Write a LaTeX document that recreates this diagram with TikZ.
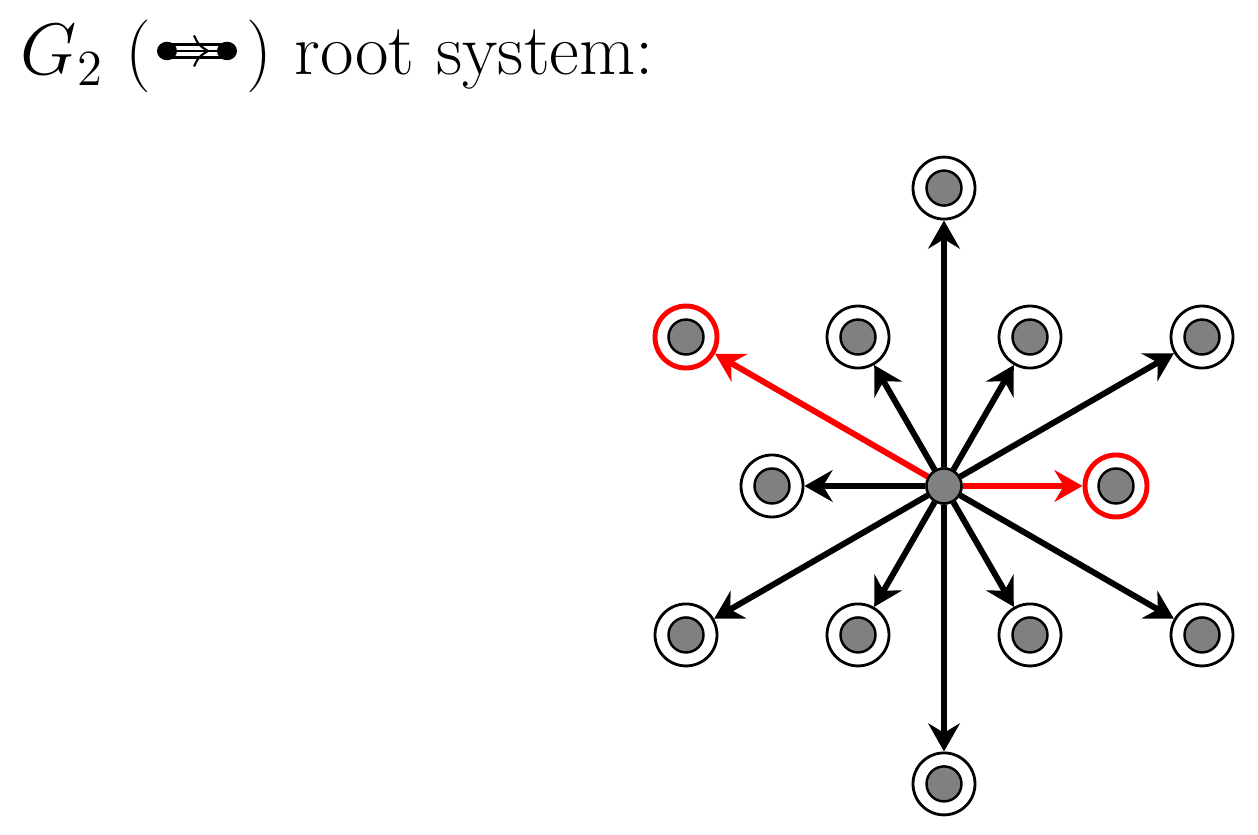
\documentclass[tikz,border=0pt]{standalone}
\usepackage{xcolor,tikz}
\usetikzlibrary{positioning,calc,arrows.meta,shapes.geometric}
\definecolor{rootRedLine}{HTML}{FF0000}
\definecolor{rootGreyFill}{HTML}{808080}

\tikzset{
  rootring/.style={circle, draw=black, line width=0.8pt, fill=white,
    minimum size=0.62cm, inner sep=0pt},
  redring/.style={rootring, draw=rootRedLine, line width=1.4pt},
  rootdot/.style={circle, draw=black, line width=0.7pt, fill=rootGreyFill,
    minimum size=0.35cm, inner sep=0pt},
  rootarrow/.style={line width=1.7pt,
    -{Stealth[length=8pt, width=9pt, inset=2.7pt]}},
  dynkdot/.style={ellipse, fill=black, minimum width=0.2cm,
    minimum height=0.185cm, inner sep=0pt},
  titletext/.style={anchor=base west, font=\fontsize{20.7}{25}\selectfont,
    inner sep=0pt},
}

\begin{document}
\begin{tikzpicture}
\useasboundingbox (0,0) rectangle (12.58,8.35);

\def\xC{9.44}
\def\yC{3.49}
\def\rShort{1.72}
\pgfmathsetmacro\rLong{\rShort*sqrt(3)}

% --- TITLE ---
\node[titletext] (titleA) at (0.2, 7.60) {$G_2$ (};
\node[dynkdot] (dynL) at (1.67, 7.84) {};
\node[dynkdot] (dynR) at (2.27, 7.84) {};
\foreach \dy in {-0.065, 0, 0.065}
  \draw[line width=0.6pt] ([yshift=\dy cm]dynL.center) -- ([yshift=\dy cm]dynR.center);
\draw[line width=0.6pt]
  (1.94, 7.995) .. controls (1.985, 7.90) .. (2.08, 7.84)
  .. controls (1.985, 7.78) .. (1.94, 7.685);
\node[titletext] (titleB) at (2.46, 7.60) {) root system:};

% --- ROOTS ---
\node[rootdot] (c) at (\xC, \yC) {};
\foreach \i/\ang/\len/\kind/\col in {1/0/\rShort/redring/rootRedLine,
    2/60/\rShort/rootring/black, 3/120/\rShort/rootring/black,
    4/180/\rShort/rootring/black, 5/240/\rShort/rootring/black,
    6/300/\rShort/rootring/black, 7/30/\rLong/rootring/black,
    8/90/\rLong/rootring/black, 9/150/\rLong/redring/rootRedLine,
    10/210/\rLong/rootring/black, 11/270/\rLong/rootring/black,
    12/330/\rLong/rootring/black} {
  \node[\kind] (r\i) at ($(c)+(\ang:\len)$) {};
  \node[rootdot] (d\i) at (r\i) {};
  \draw[rootarrow, \col] (c) -- (r\i);
}
% redraw centre on top
\node[rootdot] (c0) at (c) {};

\end{tikzpicture}
\end{document}
